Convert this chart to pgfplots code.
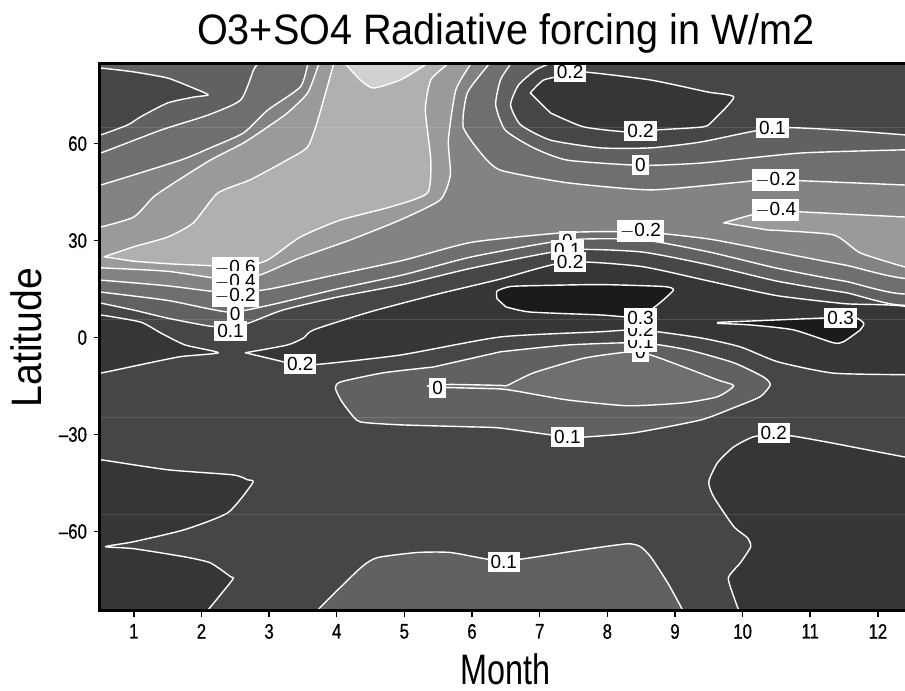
\documentclass[border=0pt]{standalone}
\usepackage{fontspec}
\setmainfont{Liberation Sans}
\newfontfamily\titlefont{Liberation Sans}[FakeStretch=0.93]
\newfontfamily\xlabfont{Liberation Sans}[FakeStretch=0.76]
\newfontfamily\ylabfont{Liberation Sans}[FakeStretch=0.92]
\newfontfamily\tickfont{Liberation Sans}[FakeStretch=0.8, FakeBold=0.6]
\usepackage{pgfplots}
\pgfplotsset{compat=1.18}

% grey levels, light (low forcing) to dark (high forcing)
\definecolor{lvA}{HTML}{D0D0D0} % < -0.8
\definecolor{lvB}{HTML}{B0B0B0} % -0.8 .. -0.6
\definecolor{lvC}{HTML}{9A9A9A} % -0.6 .. -0.4
\definecolor{lvD}{HTML}{838383} % -0.4 .. -0.2
\definecolor{lvE}{HTML}{6F6F6F} % -0.2 .. 0
\definecolor{lvF}{HTML}{616161} % 0 .. 0.1
\definecolor{lvG}{HTML}{464646} % 0.1 .. 0.2
\definecolor{lvH}{HTML}{363636} % 0.2 .. 0.3
\definecolor{lvI}{HTML}{1B1B1B} % > 0.3

\pgfplotsset{cf/.style={draw=white, line width=0.7pt, line join=round, smooth, tension=0.35, fill=#1}}
\tikzset{cl/.style={fill=white, text=black, inner xsep=1.5pt, inner ysep=1.7pt,
  font=\fontsize{9.5}{9}\selectfont}}

\begin{document}
\begin{tikzpicture}
\begin{axis}[
  name=ax, scale only axis, width=405.85pt, height=273.5pt,
  xmin=0.5, xmax=12.5, ymin=-84.6, ymax=84.65,
  axis background/.style={fill=lvG},
  axis on top, axis line style={line width=1.5pt, black},
  tick align=outside, tick pos=left, major tick length=3pt,
  every tick/.style={black, line width=0.75pt},
  xtick={1,...,12}, ytick={-60,-30,0,30,60},
  yticklabels={\textendash60,\textendash30,0,30,60},
  tick label style={font=\tickfont\fontsize{10.5}{11}\selectfont},
  /pgf/number format/assume math mode=true,
  title={O3+SO4 Radiative forcing in W/m2}, xlabel={Month}, ylabel={Latitude},
  every axis title/.style={at={(rel axis cs:0.5,1)}, anchor=base, yshift=9.5pt,
    font=\titlefont\fontsize{21.3}{22}\selectfont},
  every axis x label/.style={at={(rel axis cs:0.5,0)}, anchor=base, yshift=-37pt,
    font=\xlabfont\fontsize{21.3}{22}\selectfont},
  every axis y label/.style={at={(rel axis cs:0,0.5)}, rotate=90, anchor=base, yshift=29pt,
    font=\ylabfont\fontsize{21.3}{22}\selectfont},
  clip mode=individual,
]
% ---- northern sub-levels ----
% f < 0.1
\addplot[cf=lvF] coordinates {(0.4,86) (7.13,86) (7.13,84.7) (6.94,82.8) (6.69,78.2) (6.57,72.0) (6.72,65.8)
  (7.16,61.1) (7.90,58.7) (8.64,58.7) (9.38,60.5) (10.46,64.9) (11.45,64.2) (12.41,62.7) (12.6,62.5)
  (12.6,11.7) (11.5,14) (10.5,17.5) (9.5,22.5) (8.5,26.5) (7.4,27.1) (6.0,21.5) (5.0,16.5) (4.0,12.5)
  (3.2,8.5) (2.7,4.5) (2.4,3.3) (2.1,3.6) (1.5,6) (1.0,8.5) (0.5,10.7) (0.4,10.8)} -- cycle;
% f < 0
\addplot[cf=lvE] coordinates {(0.4,14.1) (0.4,57.1) (0.51,57.1) (1.40,64.2) (2.09,68.8) (2.58,73.5) (2.77,82.8)
  (2.83,84.7) (2.85,86) (6.6,86) (6.57,84.7) (6.42,79.7) (6.35,72.0) (6.49,64.2) (6.91,58.7) (7.41,54.9)
  (8.49,53.3) (9.38,54.0) (10.86,57.1) (12.41,58.1) (12.6,58.2) (12.6,14.8) (11.5,17.5) (10.5,21.5)
  (9.5,26.5) (8.5,30.3) (7.4,30.2) (6.0,25) (5.0,19.5) (4.0,15) (3.0,10) (2.4,7.9) (1.5,11.5) (0.5,14.1)} -- cycle;
% f < -0.2
\addplot[cf=lvD] coordinates {(0.4,17.8) (0.4,47.2) (0.51,47.2) (1.69,54.9) (2.13,58.7) (2.62,63.3) (2.98,70.4)
  (3.46,77.5) (3.57,84.4) (3.58,86) (6.26,86) (6.24,84.4) (5.93,75.7) (5.87,65.2) (6.13,57.1) (6.42,51.8)
  (7.41,47.9) (8.64,45.7) (9.87,47.9) (10.46,48.8) (12.41,47.2) (12.6,47.1) (12.6,18.8) (11.5,22.5)
  (10.5,26.5) (9.5,30.5) (8.5,32.7) (7.4,32.5) (6.0,29.5) (5.0,24) (4.0,19.5) (3.0,15) (2.4,13.8)
  (1.5,16) (0.5,17.8)} -- cycle;
% f < -0.4
\addplot[cf=lvC] coordinates {(0.4,21.6) (0.4,34.2) (0.51,34.2) (1.0,37.3) (1.29,43.5) (1.59,47.8) (2.13,54.9)
  (2.62,60.2) (2.98,65.2) (3.27,69.5) (3.57,75.7) (3.73,84.4) (3.74,86) (5.99,86) (5.98,84.7) (5.76,76.6)
  (5.65,61.1) (5.68,50.3) (5.53,42.6) (4.94,36.4) (4.20,30.2) (3.46,24.7) (2.87,19.4) (2.43,17.8)
  (1.5,20.5) (0.5,21.6)} -- cycle;
\addplot[cf=lvC] coordinates {(9.72,35.5) (10.12,37.9) (10.46,39.5) (10.86,38.9) (12.41,37.3) (12.6,37.2)
  (12.6,21.6) (12.41,21.8) (11.74,26.2) (11.34,31.8) (10.37,33.3)} -- cycle;
% f < -0.6
\addplot[cf=lvB] coordinates {(0.56,25.0) (1.0,28.1) (1.50,31.1) (1.88,35.5) (2.24,44.7) (2.72,48.8) (3.27,55.0)
  (3.57,59.0) (3.72,67.3) (3.95,84.4) (3.96,86) (5.65,86) (5.64,84.7) (5.39,79.7) (5.31,70.4) (5.39,55.0)
  (5.34,44.7) (4.79,40.4) (4.06,36.4) (3.46,31.1) (2.98,24.0) (2.58,21.6) (2.18,22.2) (1.54,22.8)
  (1.0,23.6)} -- cycle;
% f < -0.8
\addplot[cf=lvA] coordinates {(4.12,86) (4.13,84.7) (4.35,79.7) (4.54,77.2) (4.94,79.7) (5.31,84.4) (5.33,86)} -- cycle;
% polar tongue, 0.1 .. 0.2
\addplot[cf=lvG] coordinates {(0.4,83.4) (0.51,83.4) (1.0,82.2) (1.50,80.3) (1.88,77.2) (2.10,75.1) (1.88,74.4)
  (1.50,72.6) (1.10,68.3) (0.91,65.8) (0.51,62.7) (0.4,62.6)} -- cycle;
% ---- southern sub-levels ----
\addplot[cf=lvF] coordinates {(6.42,-4.4) (7.41,-2.3) (8.49,-1.6) (9.19,-3.8) (9.87,-7.8) (10.31,-12.2)
  (10.41,-14.6) (10.26,-18.3) (9.87,-21.7) (9.38,-25.5) (8.39,-29.5) (7.65,-30.8) (7.41,-30.8) (6.42,-28.0)
  (5.93,-27.6) (4.94,-27.0) (4.35,-26.1) (4.20,-23.3) (4.06,-19.3) (3.98,-15.6) (4.06,-13.7) (4.69,-10.9)
  (5.43,-9.1)} -- cycle;
\addplot[cf=lvE] coordinates {(5.34,-15.0) (5.68,-14.5) (6.42,-14.8) (6.52,-14.8) (6.91,-10.9) (7.65,-6.4)
  (8.30,-4.5) (8.64,-5.4) (9.13,-9.1) (9.63,-13.1) (9.87,-14.9) (9.63,-18.3) (9.13,-20.2) (8.30,-21.1)
  (7.41,-19.3) (6.72,-16.8) (6.42,-15.9) (5.68,-15.5) (5.43,-15.4)} -- cycle;
\addplot[cf=lvF] coordinates {(3.70,-86) (3.72,-84.3) (4.35,-71.3) (4.60,-68.1) (5.19,-66.5) (5.68,-66.5)
  (6.27,-68.7) (6.67,-68.7) (7.65,-65.6) (8.30,-63.8) (8.49,-64.7) (8.64,-67.8) (8.89,-75.8) (9.11,-84.2)
  (9.12,-86)} -- cycle;
% ---- super-levels 0.2 ----
\addplot[cf=lvH] coordinates {(6.86,75.7) (7.06,79.7) (7.41,81.3) (7.65,82.2) (8.64,79.7) (9.48,76.0) (9.87,74.4)
  (9.57,67.3) (9.42,65.2) (8.68,64.2) (8.30,63.6) (7.65,65.2) (7.16,69.5)} -- cycle;
\addplot[cf=lvH] coordinates {(2.65,-4.7) (3.27,-2.3) (3.51,-0.1) (3.66,2.4) (4.5,8) (5.5,13.5) (6.4,18)
  (7.4,23.4) (8.5,22) (9.5,17.5) (10.5,13) (11.5,10.5) (12.6,8.5) (12.6,-11.6) (12.41,-11.5) (11.34,-11.0)
  (10.52,-7.5) (9.97,-2.9) (9.38,-0.1) (8.49,2.4) (7.90,1.8) (6.42,0.2) (4.94,-5.4) (3.66,-8.4)
  (3.27,-7.8)} -- cycle;
\addplot[cf=lvH] coordinates {(0.4,7.0) (0.51,7.0) (1.10,4.8) (1.40,1.4) (1.76,-2.3) (2.25,-4.7) (1.69,-5.9)
  (1.10,-8.4) (0.51,-11.0) (0.4,-11.0)} -- cycle;
\addplot[cf=lvH] coordinates {(0.4,-37.8) (0.51,-37.8) (1.50,-40.9) (2.47,-42.5) (2.68,-44.0) (2.76,-44.9)
  (2.39,-54.2) (1.74,-59.5) (0.99,-63.2) (0.58,-64.7) (0.99,-65.3) (1.74,-67.8) (2.13,-69.7) (2.43,-74.0)
  (2.46,-74.9) (2.09,-84.5) (2.05,-86) (0.4,-86)} -- cycle;
\addplot[cf=lvH] coordinates {(12.6,-37.3) (12.41,-37.0) (11.34,-32.7) (10.75,-30.5) (10.46,-30.1) (10.16,-30.7)
  (9.87,-33.8) (9.63,-38.7) (9.50,-44.6) (9.57,-49.2) (9.87,-58.5) (10.07,-61.9) (10.12,-64.7) (9.97,-69.6)
  (9.79,-74.3) (9.87,-80.2) (9.94,-84.3) (9.95,-86) (12.6,-86)} -- cycle;
% ---- super-levels 0.3 ----
\addplot[cf=lvI] coordinates {(6.37,12.0) (6.37,14.4) (6.57,15.8) (7.01,16.1) (7.90,16.4) (8.83,15.8) (8.98,14.8)
  (8.83,11.7) (8.64,8.6) (8.34,6.4) (7.90,7.0) (6.86,7.9) (6.50,9.5)} -- cycle;
\addplot[cf=lvI] coordinates {(9.63,4.7) (10.56,5.5) (11.26,6.1) (11.64,6.4) (11.79,4.5) (11.74,2.4) (11.49,-1.3)
  (11.34,-1.6) (10.75,2.4) (10.12,3.9) (9.63,4.4)} -- cycle;
% faint rendering seams
\addplot[white, opacity=0.12, line width=0.5pt] coordinates {(0.4,64.9) (12.6,64.9)};
\addplot[white, opacity=0.12, line width=0.5pt] coordinates {(0.4,5.5) (12.6,5.5)};
\addplot[white, opacity=0.12, line width=0.5pt] coordinates {(0.4,-24.8) (12.6,-24.8)};
\addplot[white, opacity=0.12, line width=0.5pt] coordinates {(0.4,-54.8) (12.6,-54.8)};
% ---- contour labels ----
\node[cl] at (axis cs:7.45,82.2) {0.2};
\node[cl] at (axis cs:8.49,63.9) {0.2};
\node[cl] at (axis cs:8.49,53.3) {0};
\node[cl] at (axis cs:10.44,64.9) {0.1};
\node[cl] at (axis cs:10.49,48.8) {$-$0.2};
\node[cl] at (axis cs:10.49,39.5) {$-$0.4};
\node[cl] at (axis cs:8.49,33.0) {$-$0.2};
\node[cl] at (axis cs:7.41,29.9) {0};
\node[cl] at (axis cs:7.41,27.0) {0.1};
\node[cl] at (axis cs:7.45,23.4) {0.2};
\node[cl] at (axis cs:2.50,21.6) {$-$0.6};
\node[cl] at (axis cs:2.50,17.2) {$-$0.4};
\node[cl] at (axis cs:2.50,12.9) {$-$0.2};
\node[cl] at (axis cs:2.50,7.3) {0};
\node[cl] at (axis cs:2.43,2.1) {0.1};
\node[cl] at (axis cs:3.46,-8.1) {0.2};
\node[cl] at (axis cs:8.49,-4.4) {0};
\node[cl] at (axis cs:8.49,-1.3) {0.1};
\node[cl] at (axis cs:8.49,2.4) {0.2};
\node[cl] at (axis cs:8.49,6.1) {0.3};
\node[cl] at (axis cs:11.45,6.1) {0.3};
\node[cl] at (axis cs:5.49,-15.6) {0};
\node[cl] at (axis cs:7.41,-30.8) {0.1};
\node[cl] at (axis cs:10.46,-29.5) {0.2};
\node[cl] at (axis cs:6.47,-69.5) {0.1};
\end{axis}
\pgfresetboundingbox
\path[use as bounding box] ([xshift=-50pt,yshift=-40pt]ax.south west) rectangle ([xshift=-3.35pt,yshift=32pt]ax.north east);
\end{tikzpicture}
\end{document}
